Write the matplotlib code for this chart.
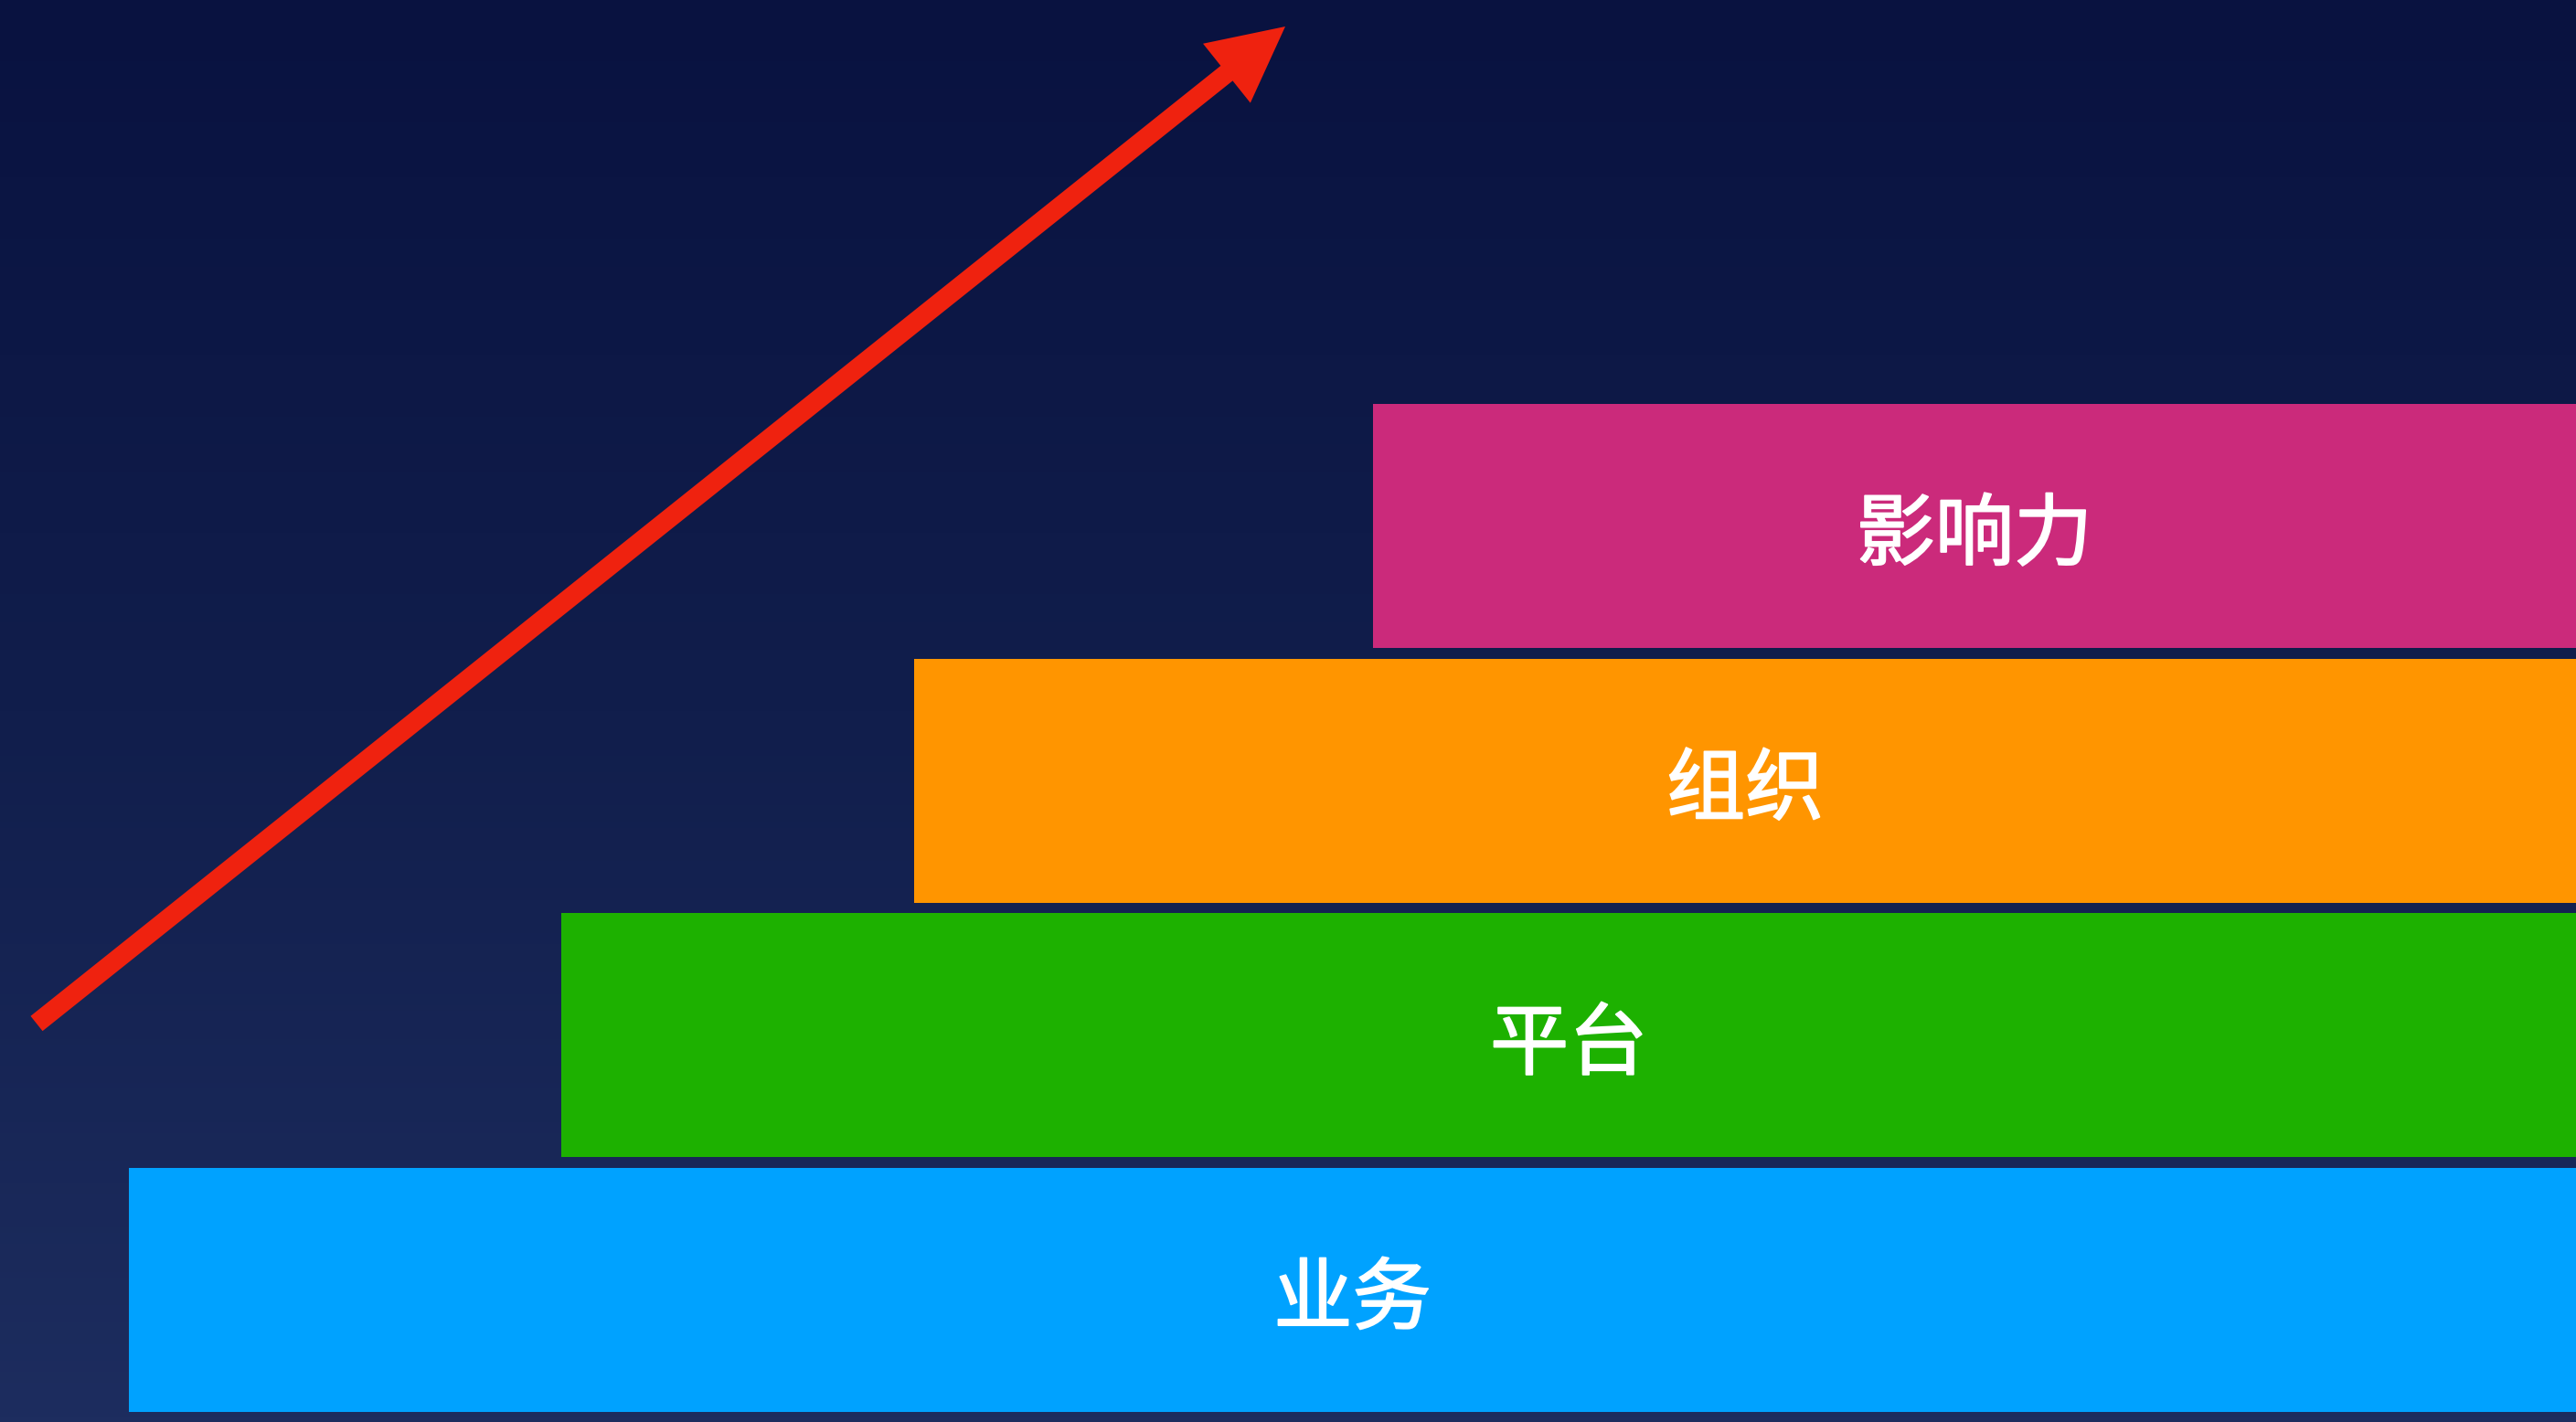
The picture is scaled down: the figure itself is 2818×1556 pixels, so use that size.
import numpy as np
import matplotlib.pyplot as plt
import matplotlib.transforms as mtransforms
import matplotlib.patheffects as pe
from matplotlib.patches import FancyArrow
from matplotlib.colors import LinearSegmentedColormap

plt.rcParams['font.family'] = ['Noto Sans CJK SC', 'DejaVu Sans']

# levels, bottom to top
labels = ['业务', '平台', '组织', '影响力']
starts = [5.0, 21.8, 35.5, 53.3]   # where each step begins (percent of width)
ends = [100, 100, 100, 100]
colors = ['#00A2FF', '#1DB100', '#FF9500', '#CB2A7B']

W, H = 2818, 1556
fig = plt.figure(figsize=(W / 100, H / 100), dpi=100)

# background gradient
bg = fig.add_axes([0, 0, 1, 1])
bg.set_axis_off()
cmap = LinearSegmentedColormap.from_list('bg', ['#091240', '#111E4C', '#1D2D5F'])
grad = np.linspace(0, 1, 256).reshape(-1, 1)
bg.imshow(grad, aspect='auto', cmap=cmap, extent=[0, 1, 0, 1])
bg.set_xlim(0, 1)
bg.set_ylim(0, 1)

ax = fig.add_axes([0, 0, 1, 1])
ax.patch.set_alpha(0)
ax.set_axis_off()
ypos = np.arange(len(labels))
widths = [e - s for s, e in zip(starts, ends)]
ax.barh(ypos, widths, left=starts, height=0.958, color=colors, linewidth=0)
txt_tr = mtransforms.offset_copy(ax.transData, fig=fig, y=-12, units='dots')
for y, s, e, lab in zip(ypos, starts, ends, labels):
    ax.text((s + e) / 2, y, lab, color='white', fontsize=62,
            ha='center', va='center', transform=txt_tr,
            path_effects=[pe.withStroke(linewidth=1.3, foreground='white')])
ax.set_xlim(0, 100)
ax.set_ylim(-0.5185, 5.065)

# arrow in pixel coordinates (origin top-left)
pix = mtransforms.Affine2D().scale(1, -1).translate(0, H)
x0, y0 = 40, 1120
x1, y1 = 1406, 29
arr = FancyArrow(x0, y0, x1 - x0, y1 - y0, width=21, head_width=83,
                 head_length=82, length_includes_head=True,
                 color='#EF220F', linewidth=0, transform=pix)
fig.add_artist(arr)

fig.savefig('out.png', dpi=100)
